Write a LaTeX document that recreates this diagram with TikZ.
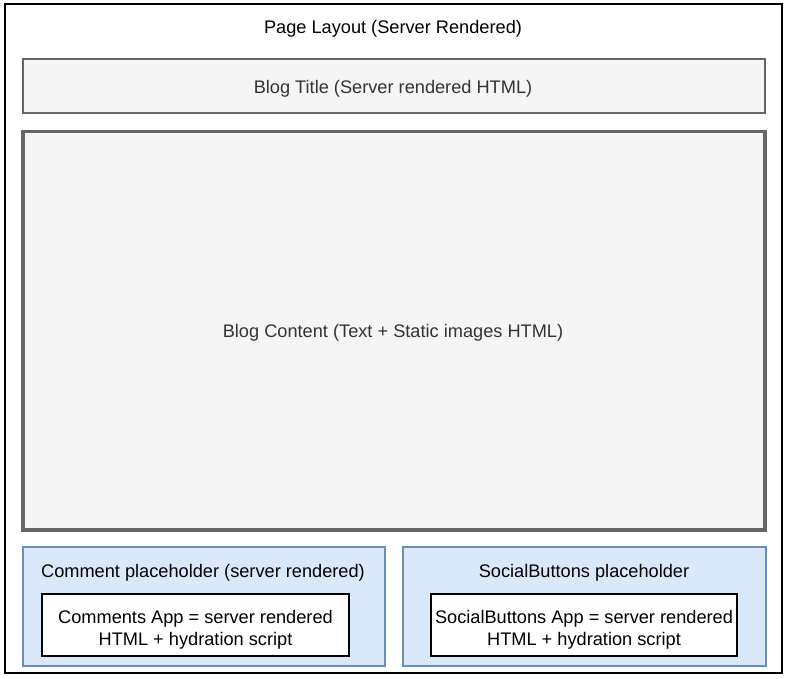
\documentclass[tikz,border=0pt]{standalone}
\usepackage{fontspec}
\setmainfont{Liberation Sans}
\definecolor{boxgray}{HTML}{666666}
\definecolor{boxfill}{HTML}{F5F5F5}
\definecolor{txtgray}{HTML}{333333}
\definecolor{bluefill}{HTML}{DAE8FC}
\definecolor{blueline}{HTML}{6C8EBF}
\begin{document}
\begin{tikzpicture}[x=1pt,y=-1pt,
  every node/.style={font=\fontsize{18.2}{22}\selectfont, inner sep=0pt},
  frame/.style={draw=black, line width=1.8pt, rectangle},
  graybox/.style={draw=boxgray, fill=boxfill, line width=1.6pt, rectangle},
  bluebox/.style={draw=blueline, fill=bluefill, line width=1.3pt, rectangle},
  appbox/.style={draw=black, fill=white, line width=1.5pt, rectangle},
  lbl/.style={text=black},
  glbl/.style={text=txtgray},
  applbl/.style={text=black, align=center}
]
\useasboundingbox (0,0) rectangle (789,678);
\fill[white] (0,0) rectangle (789,678);
\node[frame, minimum width=777pt, minimum height=669pt] (page) at (393.5,338.5) {};
\node[lbl] (pagelbl) at (393,28.5) {Page Layout (Server Rendered)};
\node[graybox, minimum width=742pt, minimum height=54pt] (title) at (394,86) {};
\node[glbl] (titlelbl) at (393,88.5) {Blog Title (Server rendered HTML)};
\node[graybox, line width=3.5pt, minimum width=742pt, minimum height=398.5pt] (content) at (394,330.75) {};
\node[glbl] (contentlbl) at (393,332.5) {Blog Content (Text + Static images HTML)};
\node[bluebox, minimum width=362pt, minimum height=119pt] (comph) at (204,606.5) {};
\node[lbl] (comphlbl) at (203,573) {Comment placeholder (server rendered)};
\node[appbox, minimum width=307pt, minimum height=62pt] (compapp) at (195.5,625) {};
\node[applbl] (compapplbl) at (195.5,630) {Comments App = server rendered\\HTML + hydration script};
\node[bluebox, minimum width=363pt, minimum height=119pt] (socph) at (584.5,606.5) {};
\node[lbl] (socphlbl) at (584,573) {SocialButtons placeholder};
\node[appbox, minimum width=306pt, minimum height=62pt] (socapp) at (584,625) {};
\node[applbl] (socapplbl) at (584,630) {SocialButtons App = server rendered\\HTML + hydration script};
\end{tikzpicture}
\end{document}
